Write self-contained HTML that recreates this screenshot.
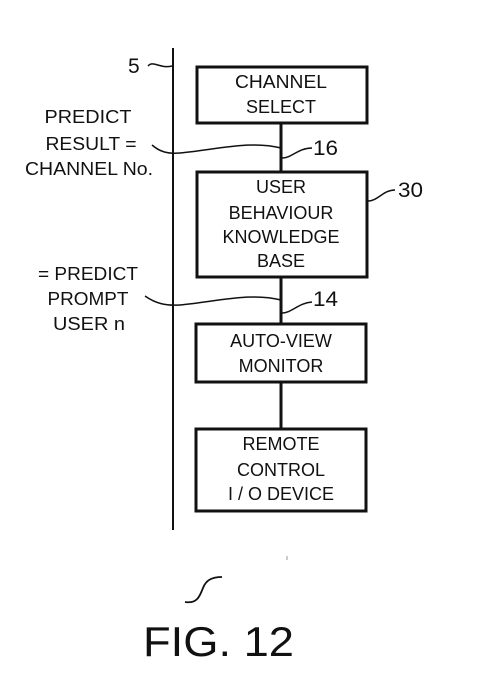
<!DOCTYPE html>
<html><head><style>body{margin:0;background:#fff}svg{display:block}</style></head><body>
<svg width="499" height="680" viewBox="0 0 499 680" xmlns="http://www.w3.org/2000/svg" font-family="Liberation Sans, sans-serif" fill="#111">
<g fill="none" stroke="#111">
<line x1="173" y1="48" x2="173" y2="530" stroke-width="2"/>
<rect x="197" y="67" width="170" height="56" stroke-width="3"/>
<rect x="197" y="172" width="170" height="105" stroke-width="3"/>
<rect x="196" y="324" width="170" height="58" stroke-width="3"/>
<rect x="196" y="429" width="170" height="82" stroke-width="3"/>
<line x1="281" y1="123" x2="281" y2="172" stroke-width="3"/>
<line x1="281" y1="277" x2="281" y2="324" stroke-width="3"/>
<line x1="281" y1="382" x2="281" y2="429" stroke-width="3"/>
<path d="M152,145 C160,152 168,154 180,153 C215,150 250,140 281,148" stroke-width="1.5"/>
<path d="M282,158 C292,158 298,148 312,148" stroke-width="1.5"/>
<path d="M145,296 C155,303 165,306 180,305 C215,302 250,292 281,300" stroke-width="1.5"/>
<path d="M282,313 C292,313 298,303 312,302" stroke-width="1.5"/>
<path d="M368,201 C378,201 383,190 395,190" stroke-width="1.5"/>
<path d="M148,66 C153,60 160,69 172,66" stroke-width="1.5"/>
<path d="M185,602 C198,604 200,595 203,588 C206,580 212,577 222,577" stroke-width="1.8"/>
</g>
<g font-size="18" text-anchor="middle">
<text x="88" y="123" textLength="87" lengthAdjust="spacingAndGlyphs">PREDICT</text>
<text x="91" y="150" textLength="91" lengthAdjust="spacingAndGlyphs">RESULT =</text>
<text x="89" y="175" textLength="128" lengthAdjust="spacingAndGlyphs">CHANNEL No.</text>
<text x="88" y="280" textLength="100" lengthAdjust="spacingAndGlyphs">= PREDICT</text>
<text x="88" y="305" textLength="81" lengthAdjust="spacingAndGlyphs">PROMPT</text>
<text x="89" y="330" textLength="72" lengthAdjust="spacingAndGlyphs">USER n</text>
<text x="281" y="88" textLength="92" lengthAdjust="spacingAndGlyphs">CHANNEL</text>
<text x="281" y="113">SELECT</text>
<text x="281" y="193">USER</text>
<text x="281" y="219">BEHAVIOUR</text>
<text x="281" y="243">KNOWLEDGE</text>
<text x="281" y="267">BASE</text>
<text x="281" y="347">AUTO-VIEW</text>
<text x="281" y="372">MONITOR</text>
<text x="281" y="450">REMOTE</text>
<text x="281" y="476">CONTROL</text>
<text x="281" y="500">I / O DEVICE</text>
</g>
<g font-size="21">
<text x="313" y="155" textLength="25" lengthAdjust="spacingAndGlyphs">16</text>
<text x="313" y="306" textLength="25" lengthAdjust="spacingAndGlyphs">14</text>
<text x="398" y="197" textLength="25" lengthAdjust="spacingAndGlyphs">30</text>
<text x="128" y="73">5</text>
</g>
<text x="143" y="656" font-size="42" textLength="151" lengthAdjust="spacingAndGlyphs">FIG. 12</text>
<line x1="287" y1="556" x2="287" y2="560" stroke="#999" stroke-width="1"/>
</svg>
</body></html>
